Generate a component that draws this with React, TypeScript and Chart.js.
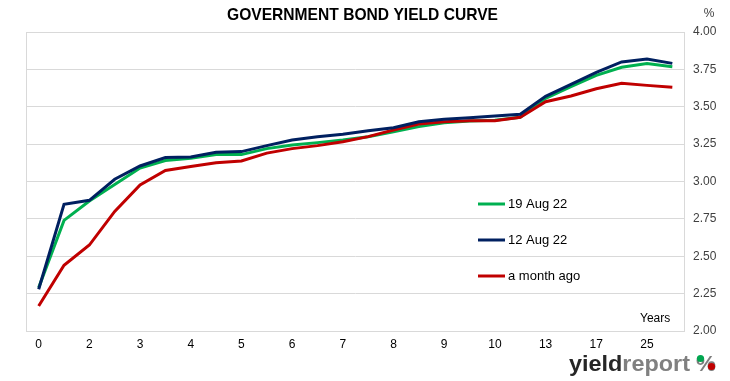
import React, { useEffect, useRef } from "react";
import { Chart, registerables } from "chart.js";

Chart.register(...registerables);

const maturities = ["0", "1", "2", "2.5", "3", "3.5", "4", "4.5", "5", "5.5", "6", "6.5", "7", "7.5", "8", "8.5", "9", "9.5", "10", "12", "13", "15", "17", "20", "25", "30"];
const shownLabels = ["0", "2", "3", "4", "5", "6", "7", "8", "9", "10", "13", "17", "25"];

const aug19 = [2.29, 2.74, 2.87, 2.98, 3.09, 3.14, 3.155, 3.18, 3.18, 3.22, 3.244, 3.26, 3.278, 3.3, 3.333, 3.367, 3.393, 3.405, 3.41, 3.43, 3.556, 3.634, 3.71, 3.764, 3.79, 3.768];
const aug12 = [2.279, 2.847, 2.874, 3.015, 3.104, 3.16, 3.164, 3.195, 3.2, 3.24, 3.278, 3.3, 3.316, 3.34, 3.36, 3.4, 3.416, 3.427, 3.438, 3.45, 3.57, 3.65, 3.73, 3.8, 3.82, 3.79];
const monthAgo = [2.167, 2.44, 2.575, 2.8, 2.977, 3.074, 3.1, 3.126, 3.137, 3.19, 3.22, 3.24, 3.266, 3.3, 3.344, 3.385, 3.4, 3.407, 3.407, 3.43, 3.534, 3.572, 3.62, 3.657, 3.643, 3.63];

const seriesNames = ["19 Aug 22", "12 Aug 22", "a month ago"];
const seriesColors = ["#00b050", "#002060", "#c00000"];

const FONT = "'Liberation Sans', Arial, sans-serif";

const decorPlugin = {
  id: "decor",
  beforeDatasetsDraw(chart: any) {
    const { ctx, chartArea } = chart;
    ctx.save();
    ctx.strokeStyle = "#d9d9d9";
    ctx.lineWidth = 1;
    ctx.strokeRect(chartArea.left + 0.5, chartArea.top + 0.5, chartArea.right - chartArea.left - 1, chartArea.bottom - chartArea.top);
    ctx.restore();
  },
  afterDraw(chart: any) {
    const { ctx, chartArea } = chart;
    ctx.save();
    // title
    ctx.fillStyle = "#000";
    ctx.font = "bold 17px " + FONT;
    ctx.textAlign = "center";
    ctx.textBaseline = "middle";
    const title = "GOVERNMENT BOND YIELD CURVE";
    const tw = ctx.measureText(title).width;
    ctx.save();
    ctx.translate(362.5, 15.5);
    ctx.scale(271 / tw, 1);
    ctx.fillText(title, 0, 0);
    ctx.restore();

    // % unit
    ctx.font = "12px " + FONT;
    ctx.fillStyle = "#404040";
    ctx.textAlign = "center";
    ctx.fillText("%", 709, 14);

    // Years
    ctx.fillStyle = "#000";
    ctx.textAlign = "left";
    ctx.fillText("Years", 640, chartArea.bottom - 12);

    // legend
    ctx.font = "13px " + FONT;
    const ys = [204, 240, 276];
    for (let i = 0; i < 3; i++) {
      ctx.strokeStyle = seriesColors[i];
      ctx.lineWidth = 3;
      ctx.beginPath();
      ctx.moveTo(478, ys[i]);
      ctx.lineTo(505, ys[i]);
      ctx.stroke();
      ctx.fillStyle = "#000";
      ctx.fillText(seriesNames[i], 508, ys[i]);
    }

    // logo
    ctx.font = "bold 22px " + FONT;
    ctx.textBaseline = "alphabetic";
    ctx.textAlign = "left";
    const w1 = ctx.measureText("yield").width;
    const w2 = ctx.measureText("report").width;
    ctx.save();
    ctx.translate(569, 371);
    ctx.scale(121 / (w1 + w2), 1);
    ctx.fillStyle = "#262626";
    ctx.fillText("yield", 0, 0);
    ctx.fillStyle = "#808080";
    ctx.fillText("report", w1, 0);
    ctx.restore();
    // % mark: gray glyph with coloured dots
    const wp = ctx.measureText("%").width;
    ctx.save();
    ctx.translate(696, 371);
    ctx.scale(20 / wp, 1);
    ctx.fillStyle = "#7f7f7f";
    ctx.fillText("%", 0, 0);
    ctx.restore();
    ctx.fillStyle = "#00a650";
    ctx.beginPath();
    ctx.arc(700.5, 358.5, 3.6, 0, Math.PI * 2);
    ctx.fill();
    ctx.fillStyle = "#c00000";
    ctx.beginPath();
    ctx.arc(711.5, 366.5, 3.6, 0, Math.PI * 2);
    ctx.fill();
    ctx.restore();
  },
};

export default function App() {
  const ref = useRef<HTMLCanvasElement>(null);
  useEffect(() => {
    document.body.style.margin = "0";
    const chart = new Chart(ref.current!, {
      type: "line",
      data: {
        labels: maturities,
        datasets: [
          { label: seriesNames[0], data: aug19, borderColor: seriesColors[0], borderWidth: 3, pointRadius: 0, tension: 0, order: 2 },
          { label: seriesNames[1], data: aug12, borderColor: seriesColors[1], borderWidth: 3, pointRadius: 0, tension: 0, order: 0 },
          { label: seriesNames[2], data: monthAgo, borderColor: seriesColors[2], borderWidth: 3, pointRadius: 0, tension: 0, order: 1 },
        ],
      },
      options: {
        animation: false,
        responsive: false,
        layout: { padding: { left: 26, top: 32, right: 0, bottom: 0 } },
        plugins: { legend: { display: false }, title: { display: false }, tooltip: { enabled: false } },
        scales: {
          x: {
            type: "category",
            offset: true,
            grid: { display: false, drawTicks: false },
            border: { display: false },
            ticks: {
              autoSkip: false,
              maxRotation: 0,
              padding: 6,
              color: "#000",
              font: { size: 12, family: FONT },
              callback: (_v: any, i: number) => (i % 2 === 0 ? shownLabels[i / 2] : ""),
            },
            afterFit: (s: any) => { s.height = 50; },
          },
          y: {
            position: "right",
            min: 2,
            max: 4,
            grid: { color: "#d9d9d9", drawTicks: false },
            border: { display: false },
            ticks: {
              stepSize: 0.25,
              padding: 8,
              color: "#404040",
              font: { size: 12, family: FONT },
              callback: (v: any) => Number(v).toFixed(2),
            },
            afterFit: (s: any) => { s.width = 45; },
          },
        },
      },
      plugins: [decorPlugin],
    });
    return () => chart.destroy();
  }, []);
  return (
    <div style={{ position: "absolute", left: 0, top: 0, width: 730, height: 381, background: "#fff" }}>
      <canvas ref={ref} width={730} height={381} />
    </div>
  );
}
